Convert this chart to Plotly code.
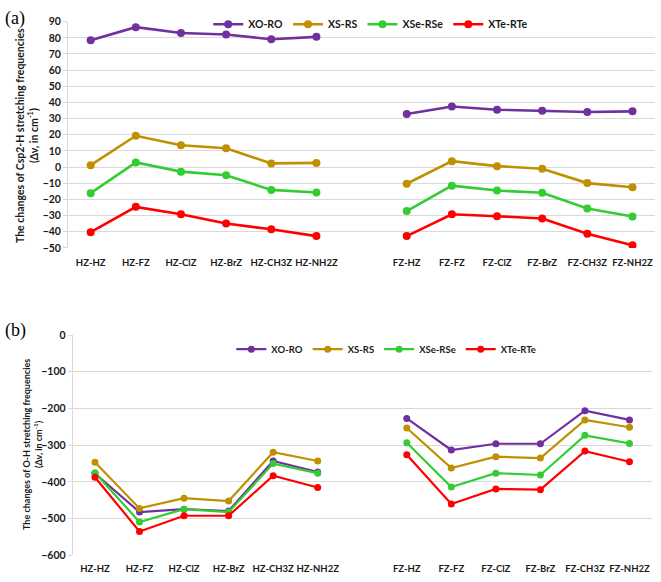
import plotly.graph_objects as go

# ---------------- data ----------------
hz_cats = ["HZ-HZ", "HZ-FZ", "HZ-ClZ", "HZ-BrZ", "HZ-CH3Z", "HZ-NH2Z"]
fz_cats = ["FZ-HZ", "FZ-FZ", "FZ-ClZ", "FZ-BrZ", "FZ-CH3Z", "FZ-NH2Z"]
series_names = ["XO-RO", "XS-RS", "XSe-RSe", "XTe-RTe"]
series_colors = ["#7030A0", "#BF9000", "#33CC33", "#FF0000"]

# (a) Csp2-H stretching frequency changes
a_xo_hz = [78.5, 86.6, 83.0, 82.1, 79.1, 80.6]
a_xo_fz = [32.9, 37.5, 35.5, 34.9, 34.1, 34.5]
a_xs_hz = [1.2, 19.4, 13.5, 11.7, 2.3, 2.6]
a_xs_fz = [-10.3, 3.7, 0.6, -1.0, -9.9, -12.5]
a_xse_hz = [-16.1, 2.9, -2.8, -5.0, -14.1, -15.7]
a_xse_fz = [-27.2, -11.5, -14.5, -15.9, -25.6, -30.6]
a_xte_hz = [-40.3, -24.6, -29.2, -34.9, -38.5, -42.7]
a_xte_fz = [-42.7, -29.2, -30.4, -31.8, -41.3, -48.4]

# (b) O-H stretching frequency changes
b_xo_hz = [-377, -482, -474, -479, -343, -373]
b_xo_fz = [-227, -313, -296, -296, -206, -231]
b_xs_hz = [-346, -472, -444, -452, -319, -343]
b_xs_fz = [-253, -362, -331, -335, -231, -251]
b_xse_hz = [-375, -509, -474, -482, -350, -376]
b_xse_fz = [-293, -414, -376, -381, -273, -295]
b_xte_hz = [-387, -535, -492, -492, -383, -415]
b_xte_fz = [-326, -460, -419, -421, -316, -345]

a_ticks = list(range(-50, 91, 10))
b_ticks = list(range(-600, 1, 100))

# ---------------- build ----------------
gap = " "
cats = hz_cats + [gap] + fz_cats

a_series = [(a_xo_hz, a_xo_fz), (a_xs_hz, a_xs_fz), (a_xse_hz, a_xse_fz), (a_xte_hz, a_xte_fz)]
b_series = [(b_xo_hz, b_xo_fz), (b_xs_hz, b_xs_fz), (b_xse_hz, b_xse_fz), (b_xte_hz, b_xte_fz)]

FONT = "Lato"
fig = go.Figure()

for name, color, (h, f) in zip(series_names, series_colors, a_series):
    fig.add_trace(go.Scatter(
        x=cats, y=list(h) + [None] + list(f), name=name, mode="lines+markers",
        line=dict(color=color, width=2.6), marker=dict(color=color, size=8),
        connectgaps=False, xaxis="x", yaxis="y", legend="legend"))

for name, color, (h, f) in zip(series_names, series_colors, b_series):
    fig.add_trace(go.Scatter(
        x=cats, y=list(h) + [None] + list(f), name=name, mode="lines+markers",
        line=dict(color=color, width=2.2), marker=dict(color=color, size=7),
        connectgaps=False, xaxis="x2", yaxis="y2", legend="legend2"))

ytickfont = dict(family=FONT, size=10.5, color="#1a1a1a", weight="bold")
xtickfont = dict(family=FONT, size=9.5, color="#1a1a1a", weight="bold")
xcommon = dict(type="category", categoryorder="array", categoryarray=cats,
               tickmode="array", tickvals=hz_cats + fz_cats,
               showgrid=False, zeroline=False, showline=False, ticks="",
               tickfont=xtickfont, tickangle=0, range=[-0.5, 12.5], fixedrange=True)
ycommon = dict(showgrid=True, gridcolor="#D9D9D9", gridwidth=1, zeroline=False,
               showline=True, linecolor="#D9D9D9", linewidth=1,
               ticks="outside", ticklen=4, tickcolor="#D9D9D9",
               tickfont=ytickfont, fixedrange=True)

fig.update_layout(
    width=661, height=582,
    margin=dict(l=0, r=0, t=0, b=0),
    paper_bgcolor="white", plot_bgcolor="white",
    xaxis=dict(domain=[0.103, 0.991], anchor="y", ticklabelstandoff=8, **xcommon),
    yaxis=dict(domain=[0.5756, 0.9725], anchor="x", range=[-50, 90],
               tickvals=a_ticks, **ycommon),
    xaxis2=dict(domain=[0.110, 0.986], anchor="y2", ticklabelstandoff=6, **xcommon),
    yaxis2=dict(domain=[0.0361, 0.4227], anchor="x2", range=[-600, 0],
                tickvals=b_ticks, **ycommon),
    legend=dict(orientation="h", x=0.315, y=0.968, xanchor="left", yanchor="middle",
                bgcolor="rgba(255,255,255,0)", itemwidth=30,
                font=dict(family=FONT, size=10.5, color="#1a1a1a", weight="bold")),
    legend2=dict(orientation="h", x=0.35, y=0.398, xanchor="left", yanchor="middle",
                 bgcolor="rgba(255,255,255,0)", itemwidth=30,
                 font=dict(family=FONT, size=9.5, color="#1a1a1a", weight="bold")),
    showlegend=True,
)

fig.add_annotation(text="(a)", x=0.005, y=0.978, xref="paper", yref="paper",
                   xanchor="left", yanchor="middle", showarrow=False,
                   font=dict(family="Liberation Serif", size=18, color="black"))
fig.add_annotation(text="(b)", x=0.005, y=0.43, xref="paper", yref="paper",
                   xanchor="left", yanchor="middle", showarrow=False,
                   font=dict(family="Liberation Serif", size=18, color="black"))

fig.add_annotation(text="The changes of Csp2-H stretching frequencies<br>(Δν, in cm<sup>-1</sup>)",
                   x=0.041, y=0.772, xref="paper", yref="paper", textangle=-90,
                   xanchor="center", yanchor="middle", showarrow=False,
                   font=dict(family=FONT, size=10.5, color="#1a1a1a", weight="bold"))
fig.add_annotation(text="The changes of O-H stretching frequencies<br>(Δν, in cm<sup>-1</sup>)",
                   x=0.050, y=0.23, xref="paper", yref="paper", textangle=-90,
                   xanchor="center", yanchor="middle", showarrow=False,
                   font=dict(family=FONT, size=9, color="#1a1a1a", weight="bold"))

fig.write_html("out.html", config={"displayModeBar": False},
               post_script="document.body.style.margin='0';document.body.style.overflow='hidden';")
